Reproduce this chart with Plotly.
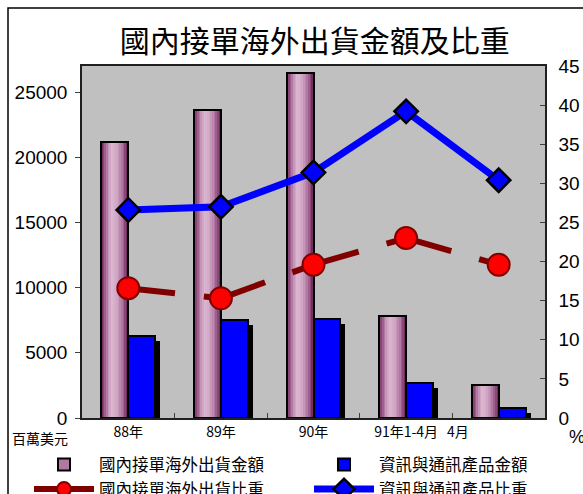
import plotly.graph_objects as go

categories = ["88年", "89年", "90年", "91年1-4月", "4月"]
tick_labels = ["88年", "89年", "90年", "91年1-4月", "4月" + "\u00a0" * 26]
orders_total = [21200, 23600, 26500, 7800, 2500]          # 國內接單海外出貨金額
ict_total = [6300, 7500, 7600, 2700, 800]                 # 資訊與通訊產品金額
orders_share = [16.6, 15.3, 19.6, 23.0, 19.6]             # 國內接單海外出貨比重 (%)
ict_share = [26.6, 27.0, 31.4, 39.2, 30.4]                # 資訊與通訊產品比重 (%)

name_a = "國內接單海外出貨金額"
name_b = "資訊與通訊產品金額"
name_c = "國內接單海外出貨比重"
name_d = "資訊與通訊產品比重"

FONT = "Liberation Sans, Arial, Noto Sans CJK TC"
CJK = "Noto Sans CJK TC, Liberation Sans"

BW = 0.29          # bar width in category units
SHADOW_DX = 0.055  # shadow offset (category units)
SHADOW_DY = 380    # shadow drop (left-axis units)

# cylinder gradient colours (left -> right)
keys = [(0.0, (0x6A, 0x1E, 0x54)), (0.15, (0x9C, 0x5C, 0x8A)), (0.3, (0xCC, 0x9C, 0xBE)),
        (0.42, (0xDC, 0xB8, 0xD2)), (0.6, (0xD0, 0xA4, 0xC2)), (0.78, (0xB0, 0x78, 0xA2)),
        (0.92, (0x86, 0x42, 0x72)), (1.0, (0x6A, 0x1E, 0x54))]


def grad(t):
    for (t0, c0), (t1, c1) in zip(keys[:-1], keys[1:]):
        if t0 <= t <= t1:
            f = (t - t0) / (t1 - t0)
            return "rgb(%d,%d,%d)" % tuple(round(a + (b - a) * f) for a, b in zip(c0, c1))
    return "rgb(106,30,84)"


fig = go.Figure()

# purple bars: base fill (legend entry), gradient strips, outline
fig.add_trace(go.Bar(
    x=categories, y=orders_total, offset=-BW, width=BW, name=name_a,
    marker=dict(color="#B07AA2", line=dict(color="black", width=2)),
    legend="legend", legendrank=1))
N = 16
for i in range(N):
    fig.add_trace(go.Bar(
        x=categories, y=orders_total, offset=-BW + i * BW / N, width=BW / N + 0.002,
        marker=dict(color=grad((i + 0.5) / N), line=dict(width=0)),
        showlegend=False, hoverinfo="skip"))
fig.add_trace(go.Bar(
    x=categories, y=orders_total, offset=-BW, width=BW,
    marker=dict(color="rgba(0,0,0,0)", line=dict(color="black", width=2)),
    showlegend=False, hoverinfo="skip"))

# blue bar shadow
fig.add_trace(go.Bar(
    x=categories, y=ict_total, base=-SHADOW_DY, offset=SHADOW_DX, width=BW,
    marker=dict(color="black", line=dict(width=0)), showlegend=False, hoverinfo="skip"))
# blue bars
fig.add_trace(go.Bar(
    x=categories, y=ict_total, offset=0, width=BW, name=name_b,
    marker=dict(color="#0000FF", line=dict(color="black", width=2)),
    legend="legend2", legendrank=1))

# blue share line
fig.add_trace(go.Scatter(
    x=categories, y=ict_share, yaxis="y2", mode="lines+markers", name=name_d,
    line=dict(color="#0000FF", width=7),
    marker=dict(symbol="diamond", size=18, color="#0000FF", line=dict(color="black", width=2.5)),
    legend="legend2", legendrank=2))

# red share line: dashed segments (pattern restarts each segment)
for i in range(len(categories) - 1):
    fig.add_trace(go.Scatter(
        x=categories[i:i + 2], y=orders_share[i:i + 2], yaxis="y2", mode="lines",
        line=dict(color="#800000", width=6, dash="47px,29px"),
        showlegend=False, hoverinfo="skip"))
fig.add_trace(go.Scatter(
    x=categories, y=orders_share, yaxis="y2", mode="markers", name=name_c,
    marker=dict(symbol="circle", size=22, color="#FF0000", line=dict(color="#800000", width=2)),
    showlegend=False))
# legend entry for red series
fig.add_trace(go.Scatter(
    x=[None], y=[None], yaxis="y2", mode="lines+markers", name=name_c,
    line=dict(color="#800000", width=6),
    marker=dict(symbol="circle", size=14, color="#FF0000", line=dict(color="#800000", width=2)),
    legend="legend", legendrank=2))

legend_common = dict(orientation="v", xanchor="left", y=-0.0835, yanchor="top",
                     itemwidth=60, font=dict(family=CJK, size=16.5), bgcolor="rgba(0,0,0,0)",
                     traceorder="normal", tracegroupgap=0)

fig.update_layout(
    width=583, height=494,
    margin=dict(l=82, r=38, t=66, b=76, autoexpand=False),
    paper_bgcolor="white", plot_bgcolor="#C0C0C0",
    barmode="overlay", bargap=0,
    font=dict(family=FONT, color="black", size=14),
    title=dict(text="國內接單海外出貨金額及比重", x=0.54, xanchor="center", y=0.916, yanchor="middle",
               font=dict(family=CJK, size=30, color="black")),
    xaxis=dict(type="category", tickvals=categories, ticktext=tick_labels, tickangle=0,
               tickfont=dict(family=CJK, size=14),
               showline=True, linecolor="#202020", linewidth=1.5, mirror=True,
               ticks="inside", ticklen=5, tickcolor="#404040", tickson="boundaries",
               showgrid=False, zeroline=False, range=[-0.5, 4.5]),
    yaxis=dict(range=[0, 27000], tickvals=[0, 5000, 10000, 15000, 20000, 25000], tickformat="d",
               tickfont=dict(family=FONT, size=19), showgrid=False, zeroline=False,
               showline=True, linecolor="#202020", linewidth=1.5,
               ticks="outside", ticklen=5, tickcolor="#404040", ticklabelstandoff=4),
    yaxis2=dict(range=[0, 45], tickvals=list(range(0, 50, 5)), overlaying="y", side="right",
                tickfont=dict(family=FONT, size=19), showgrid=False, zeroline=False,
                showline=True, linecolor="#202020", linewidth=1.5,
                ticks="inside", ticklen=5, tickcolor="#404040", ticklabelstandoff=8),
    legend=dict(x=(29 - 82) / 463, **legend_common),
    legend2=dict(x=(309 - 82) / 463, **legend_common),
    showlegend=True,
    annotations=[
        dict(text="百萬美元", xref="paper", yref="paper", x=(40 - 82) / 463, y=(418 - 438) / 352,
             showarrow=False, font=dict(family=CJK, size=14), xanchor="center", yanchor="middle"),
        dict(text="%", xref="paper", yref="paper", x=(577 - 82) / 463, y=(418 - 437) / 352,
             showarrow=False, font=dict(family=FONT, size=18), xanchor="center", yanchor="middle"),
    ],
    shapes=[
        dict(type="path", xref="paper", yref="paper",
             path="M %f,%f L %f,%f L %f,%f" % ((8 - 82) / 463, (418 - 520) / 352,
                                            (8 - 82) / 463, (418 - 8) / 352,
                                            (600 - 82) / 463, (418 - 8) / 352),
             line=dict(color="black", width=1.5)),
    ],
)

fig.write_html("out.html")
